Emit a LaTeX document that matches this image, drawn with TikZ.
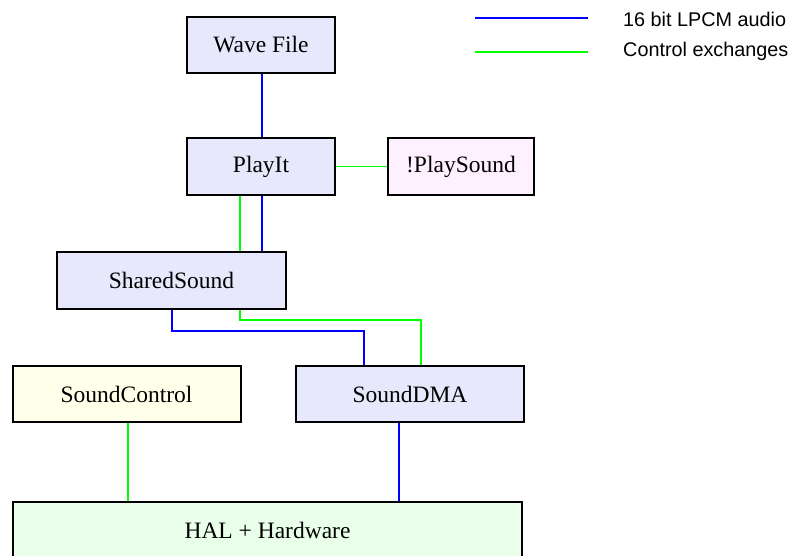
\documentclass[tikz,border=0pt]{standalone}
\usepackage{fontspec}
\setmainfont{Liberation Serif}
\newfontfamily\legendfont{Liberation Sans}
\definecolor{audioblue}{HTML}{0000FF}
\definecolor{ctrlgreen}{HTML}{00FF00}
\definecolor{lavfill}{HTML}{E8E8FC}
\definecolor{pinkfill}{HTML}{FFF0FF}
\definecolor{ivoryfill}{HTML}{FFFFEA}
\definecolor{mintfill}{HTML}{EAFFEA}
\tikzset{
  block/.style={draw=black, line width=2pt, rectangle, inner sep=0pt,
    font=\fontsize{23.5}{28}\selectfont},
  audio/.style={draw=audioblue, line width=1.4pt},
  ctrl/.style={draw=ctrlgreen, line width=1.4pt},
  legendtext/.style={anchor=base west, inner sep=0pt,
    font=\legendfont\fontsize{19.8}{24}\selectfont},
}
\begin{document}
\begin{tikzpicture}[x=1pt, y=-1pt]
  \useasboundingbox (0,0) rectangle (792,555);
  \clip (0,0) rectangle (792,555);

  % components
  \node[block, fill=lavfill, minimum width=148pt, minimum height=56pt] (wave) at (261,45) {Wave File};
  \node[block, fill=lavfill, minimum width=148pt, minimum height=57pt] (play) at (261,166.5) {PlayIt};
  \node[block, fill=pinkfill, minimum width=146pt, minimum height=57pt] (psound) at (461,166.5) {!PlaySound};
  \node[block, fill=lavfill, minimum width=229pt, minimum height=57pt] (shared) at (171.5,280.5) {SharedSound};
  \node[block, fill=ivoryfill, minimum width=228pt, minimum height=56pt] (sctrl) at (126.5,394) {SoundControl};
  \node[block, fill=lavfill, minimum width=228pt, minimum height=56pt] (dma) at (410,394) {SoundDMA};
  \node[block, fill=mintfill, minimum width=509pt, minimum height=57pt] (hal) at (267.5,530.5) {HAL + Hardware};

  % audio paths
  \draw[audio] (wave.south -| 262,0) -- (play.north -| 262,0);
  \draw[audio] (play.south -| 262,0) -- (shared.north -| 262,0);
  \draw[audio] (shared.south -| 172,0) -- (172,331) -- (364,331) -- (dma.north -| 364,0);
  \draw[audio] (dma.south -| 399,0) -- (hal.north -| 399,0);

  % control paths
  \draw[ctrl] (play.east) -- (psound.west);
  \draw[ctrl] (play.south -| 240,0) -- (shared.north -| 240,0);
  \draw[ctrl] (shared.south -| 240,0) -- (240,320) -- (421,320) -- (dma.north -| 421,0);
  \draw[ctrl] (sctrl.south -| 128,0) -- (hal.north -| 128,0);

  % legend
  \coordinate (la1) at (475,18);
  \coordinate (la2) at (588,18);
  \coordinate (lc1) at (475,52);
  \coordinate (lc2) at (588,52);
  \draw[audio] (la1) -- (la2);
  \draw[ctrl] (lc1) -- (lc2);
  \node[legendtext] (laudio) at (623,26) {16 bit LPCM audio};
  \node[legendtext] (lctrl) at (623,56) {Control exchanges};
\end{tikzpicture}
\end{document}
